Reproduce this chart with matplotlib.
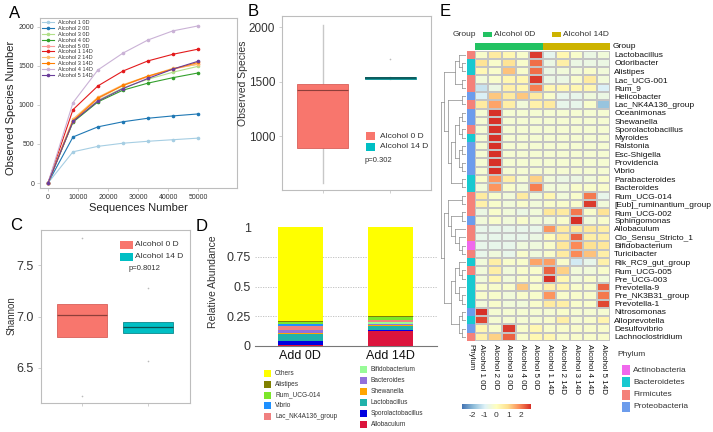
import numpy as np
import matplotlib
matplotlib.use('Agg')
import matplotlib.pyplot as plt
from matplotlib.colors import LinearSegmentedColormap, ListedColormap
from matplotlib.patches import Rectangle

plt.rcParams['font.family'] = ['Liberation Sans', 'DejaVu Sans']
plt.rcParams['axes.unicode_minus'] = False

# ---------------- Panel A data: rarefaction ----------------
seq_depth = [0, 8300, 16600, 24900, 33200, 41500, 49800]
rare_names = ['Alcohol 1 0D', 'Alcohol 2 0D', 'Alcohol 3 0D', 'Alcohol 4 0D', 'Alcohol 5 0D',
              'Alcohol 1 14D', 'Alcohol 2 14D', 'Alcohol 3 14D', 'Alcohol 4 14D', 'Alcohol 5 14D']
rare_a1_0 = [0, 400, 470, 510, 535, 555, 575]
rare_a2_0 = [0, 590, 720, 785, 830, 860, 885]
rare_a3_0 = [0, 790, 1060, 1220, 1330, 1420, 1495]
rare_a4_0 = [0, 780, 1040, 1190, 1280, 1350, 1410]
rare_a5_0 = [0, 800, 1080, 1250, 1360, 1460, 1525]
rare_a1_14 = [0, 940, 1245, 1435, 1565, 1650, 1715]
rare_a2_14 = [0, 820, 1100, 1260, 1370, 1470, 1520]
rare_a3_14 = [0, 800, 1090, 1250, 1370, 1460, 1545]
rare_a4_14 = [0, 1030, 1450, 1665, 1833, 1950, 2013]
rare_a5_14 = [0, 790, 1050, 1210, 1340, 1460, 1560]
rare_colors = ['#A6CEE3', '#1F78B4', '#B2DF8A', '#33A02C', '#FB9A99',
               '#E31A1C', '#FDBF6F', '#FF7F00', '#CAB2D6', '#6A3D9A']

# ---------------- Panel B data: observed species ----------------
grp_names = ['Alcohol 0 D', 'Alcohol 14 D']
grp_colors = ['#F8766D', '#00BFC4']
obs_q1 = [891, 1527]
obs_med = [1418, 1536]
obs_q3 = [1473, 1546]
obs_lo = [573, 1536]
obs_hi = [2020, 1536]
obs_out = [[], [1709]]
obs_p = 'p=0.302'

# ---------------- Panel C data: Shannon ----------------
sha_q1 = [6.80, 6.84]
sha_med = [7.01, 6.90]
sha_q3 = [7.126, 6.95]
sha_out = [[7.76, 6.23], [7.28, 6.57]]
sha_p = 'p=0.8012'

# ---------------- Panel D data: relative abundance ----------------
abund_groups = ['Add 0D', 'Add 14D']
taxa = ['Allobaculum', 'Sporolactobacillus', 'Lactobacillus', 'Shewanella', 'Bacteroides',
        'Bifidobacterium', 'Lac_NK4A136_group', 'Vibrio', 'Rum_UCG-014', 'Alistipes']
abund_0d = [0.008, 0.035, 0.060, 0.010, 0.020, 0.005, 0.030, 0.015, 0.015, 0.012]
abund_14d = [0.130, 0.002, 0.040, 0.003, 0.006, 0.020, 0.015, 0.002, 0.022, 0.008]
taxa_colors = ['#DC143C', '#0000E0', '#20B2AA', '#FFA500', '#9370DB',
               '#98FB98', '#F08080', '#1E90FF', '#7CE62A', '#808000']
others_color = '#FFFF00'
legend_left = ['Others', 'Alistipes', 'Rum_UCG-014', 'Vibrio', 'Lac_NK4A136_group']
legend_right = ['Bifidobacterium', 'Bacteroides', 'Shewanella', 'Lactobacillus',
                'Sporolactobacillus', 'Allobaculum']

# ---------------- Panel E data: heatmap ----------------
genera = ['Lactobacillus', 'Odoribacter', 'Alistipes', 'Lac_UCG-001', 'Rum_9', 'Helicobacter',
          'Lac_NK4A136_group', 'Oceanimonas', 'Shewanella', 'Sporolactobacillus', 'Myroides',
          'Ralstonia', 'Esc-Shigella', 'Providencia', 'Vibrio', 'Parabacteroides', 'Bacteroides',
          'Rum_UCG-014', '[Eub]_ruminantium_group', 'Rum_UCG-002', 'Sphingomonas', 'Allobaculum',
          'Clo_Sensu_Stricto_1', 'Bifidobacterium', 'Turicibacter', 'Rik_RC9_gut_group',
          'Rum_UCG-005', 'Pre_UCG-003', 'Prevotella-9', 'Pre_NK3B31_group', 'Prevotella-1',
          'Nitrosomonas', 'Alloprevotella', 'Desulfovibrio', 'Lachnoclostridium']
phylum = ['Firmicutes', 'Bacteroidetes', 'Bacteroidetes', 'Firmicutes', 'Firmicutes',
          'Proteobacteria', 'Firmicutes', 'Proteobacteria', 'Proteobacteria', 'Firmicutes',
          'Bacteroidetes', 'Proteobacteria', 'Proteobacteria', 'Proteobacteria', 'Proteobacteria',
          'Bacteroidetes', 'Bacteroidetes', 'Firmicutes', 'Firmicutes', 'Firmicutes',
          'Proteobacteria', 'Firmicutes', 'Firmicutes', 'Actinobacteria', 'Firmicutes',
          'Bacteroidetes', 'Firmicutes', 'Bacteroidetes', 'Bacteroidetes', 'Bacteroidetes',
          'Bacteroidetes', 'Proteobacteria', 'Bacteroidetes', 'Proteobacteria', 'Firmicutes']
phylum_levels = ['Actinobacteria', 'Bacteroidetes', 'Firmicutes', 'Proteobacteria']
phylum_colors = ['#F068EC', '#17C9D0', '#F4817A', '#6C9CEC']
samples = ['Alcohol 1 0D', 'Alcohol 2 0D', 'Alcohol 3 0D', 'Alcohol 4 0D', 'Alcohol 5 0D',
           'Alcohol 1 14D', 'Alcohol 2 14D', 'Alcohol 3 14D', 'Alcohol 4 14D', 'Alcohol 5 14D']
sample_group = ['Alcohol 0D'] * 5 + ['Alcohol 14D'] * 5
group_levels = ['Alcohol 0D', 'Alcohol 14D']
group_colors = ['#22C262', '#CDB300']
zscore = [
    [-0.2, 0.6, 0.25, -0.2, 2.7, -0.75, 0.25, -0.2, -0.6, -0.45],
    [0.8, -0.2, 0.8, -0.2, 2.2, -0.6, 0.5, -0.6, -0.6, -0.6],
    [0.2, -0.2, 1.3, -0.2, 2.2, -0.6, -0.45, -0.45, -0.2, -0.45],
    [-0.45, -0.2, 0.25, 0.25, 2.7, -0.6, -0.6, -0.2, 0.6, -0.45],
    [-1.2, -0.6, 0.4, 0.25, 2.0, 0.25, 0.25, 0.25, 0.25, -1.0],
    [-1.0, 1.2, 0.6, 1.2, 0.6, -0.2, -0.7, -0.7, -0.5, -0.6],
    [0.6, 1.6, 0.5, -0.45, 0.4, 0.6, -0.7, -0.7, -0.2, -1.8],
    [-0.32, 2.85, -0.32, -0.32, -0.32, -0.32, -0.32, -0.32, -0.32, -0.32],
    [-0.32, 2.85, -0.32, -0.32, -0.32, -0.32, -0.32, -0.32, -0.32, -0.32],
    [-0.32, 2.85, -0.32, -0.32, -0.32, -0.32, -0.32, -0.32, -0.32, -0.32],
    [-0.32, 2.85, -0.32, -0.32, -0.32, -0.32, -0.32, -0.32, -0.32, -0.32],
    [-0.32, 2.85, -0.32, -0.32, -0.32, -0.32, -0.32, -0.32, -0.32, -0.32],
    [-0.32, 2.85, -0.32, -0.32, -0.32, -0.32, -0.32, -0.32, -0.32, -0.32],
    [-0.32, 2.85, -0.32, -0.32, -0.32, -0.32, -0.32, -0.32, -0.32, -0.32],
    [-0.32, 2.85, -0.32, -0.32, -0.32, -0.32, -0.32, -0.32, -0.32, -0.32],
    [-0.2, 1.8, 0.5, -0.3, 1.1, -0.45, -0.6, -0.6, -0.45, -0.2],
    [-0.45, 1.8, -0.2, -0.45, 2.0, -0.45, -0.45, -0.2, -0.2, -0.2],
    [0.6, -0.2, -0.45, 0.6, -0.45, 0.25, -0.45, -0.2, 2.1, -0.7],
    [0.4, -0.2, -0.45, -0.2, -0.45, -0.2, -0.2, -0.2, 2.7, -0.45],
    [-0.6, -0.2, -0.45, -0.6, -0.45, 0.7, 0.6, 2.1, -0.2, 0.8],
    [-0.45, -0.2, -0.45, -0.2, -0.45, -0.45, -0.2, 2.8, -0.45, -0.2],
    [-0.7, -0.7, -0.7, -0.7, -0.7, 1.8, 0.6, 0.7, 0.7, 0.5],
    [-0.7, -0.7, -0.7, -0.7, -0.6, 0.1, 0.6, 2.3, 0.5, 0.5],
    [-0.7, -0.7, -0.7, -0.5, -0.5, -0.2, 0.7, 1.9, 0.9, 0.7],
    [-0.7, -0.5, -0.7, -0.2, -0.5, -0.2, 0.6, 1.9, 1.3, 0.5],
    [-0.45, 0.5, -0.2, -0.2, 1.6, 1.7, -0.2, -1.1, -0.7, 0.4],
    [-0.45, 0.5, -0.45, -0.2, -0.2, 2.3, 1.1, -0.45, -0.45, -0.2],
    [-0.45, 0.25, -0.45, -0.2, -0.2, 2.8, 0.25, -0.45, -0.2, -0.45],
    [-0.2, -0.2, -0.2, 1.2, -0.2, 0.4, 0.3, -0.2, -0.2, 2.3],
    [-0.2, -0.2, -0.45, -0.2, -0.2, 1.8, -0.2, -0.2, -0.2, 2.1],
    [-0.45, -0.2, -0.45, -0.45, -0.2, 0.6, 0.5, -0.2, -0.2, 2.6],
    [2.8, -0.3, -0.3, -0.3, -0.3, -0.3, -0.2, -0.3, -0.3, -0.3],
    [2.6, -0.3, -0.3, -0.3, -0.3, -0.2, 0.5, -0.3, -0.2, 0.3],
    [0.25, -0.2, 2.7, -0.2, 0.25, -0.2, -0.2, -0.2, -0.2, -0.2],
    [0.4, 1.1, 2.3, -0.2, 0.25, 0.25, -0.2, -0.2, -0.2, -0.2],
]
# row clustering topology (row indices)
tree = [[[[0, [1, 2]], [3, 4]],
         [[5, 6], [[[[7, 8], [9, 10]], [[11, 12], [13, 14]]], [15, 16]]]],
        [[[17, 18], [[19, 20], [21, [22, [23, 24]]]]],
         [[[25, [26, 27]], [28, [29, 30]]], [[31, 32], [33, 34]]]]]
cbar_ticks = [-2, -1, 0, 1, 2]

# ---------------- figure ----------------
W, H = 713, 432
fig = plt.figure(figsize=(W / 100, H / 100), dpi=100)


def axpx(l, t, r, b):
    return fig.add_axes([l / W, 1 - b / H, (r - l) / W, (b - t) / H])


def T(x, y, s, **kw):
    return fig.text(x / W, 1 - y / H, s, **kw)


def R(x, y, w, h, c, **kw):
    fig.add_artist(Rectangle((x / W, 1 - (y + h) / H), w / W, h / H,
                             transform=fig.transFigure, facecolor=c,
                             edgecolor='none', **kw))


FRAME = '#BDBDBD'
TXT = '#333333'


def frame(ax):
    for s in ax.spines.values():
        s.set_color(FRAME)
        s.set_linewidth(0.8)


# ---- Panel A ----
axA = axpx(40, 18, 237, 188)
rare_series = [rare_a1_0, rare_a2_0, rare_a3_0, rare_a4_0, rare_a5_0,
               rare_a1_14, rare_a2_14, rare_a3_14, rare_a4_14, rare_a5_14]
for name, vals, col in zip(rare_names, rare_series, rare_colors):
    axA.plot(seq_depth, vals, color=col, lw=0.8, marker='o', ms=1.6, label=name)
axA.set_xlim(-2660, 62800)
axA.set_ylim(-64, 2115)
axA.set_xticks([0, 10000, 20000, 30000, 40000, 50000])
axA.set_yticks([0, 500, 1000, 1500, 2000])
axA.tick_params(labelsize=5, length=2, width=0.5, color=FRAME, labelcolor=TXT, pad=2)
frame(axA)
leg = axA.legend(loc='upper left', fontsize=4, frameon=False, handlelength=2.2,
                 handletextpad=0.6, labelspacing=0.15, borderaxespad=0.2, borderpad=0.2)
for t in leg.get_texts():
    t.set_color(TXT)
T(11, 108, 'Observed Species Number', rotation=90, ha='center', va='center', fontsize=8, color='#222222')
T(138, 208, 'Sequences Number', ha='center', va='center', fontsize=8, color='#222222')
T(15, 14, 'A', ha='center', va='center', fontsize=12)

# ---- Panel B ----
axB = axpx(282, 16, 431, 190)
statsB = []
for i in range(2):
    statsB.append(dict(med=obs_med[i], q1=obs_q1[i], q3=obs_q3[i], whislo=obs_lo[i],
                       whishi=obs_hi[i], fliers=obs_out[i]))
bB = axB.bxp(statsB, positions=[1, 2], widths=0.76, patch_artist=True, showcaps=False,
             whiskerprops=dict(color='#C8C8C8', lw=1.0),
             flierprops=dict(marker='o', ms=1.2, mfc='#BBBBBB', mec='none'))
for i, p in enumerate(bB['boxes']):
    p.set_facecolor(grp_colors[i])
    p.set_edgecolor(['#D9605A', '#0A8A8E'][i])
    p.set_linewidth(0.6)
    p.set_zorder(3)
for i, m in enumerate(bB['medians']):
    m.set_color(['#8E3F3A', '#0D4F50'][i])
    m.set_linewidth([0.8, 1.2][i])
    m.set_zorder(4)
axB.set_xlim(0.4, 2.6)
axB.set_ylim(505, 2101)
axB.set_yticks([1000, 1500, 2000])
axB.set_xticks([1, 2])
axB.set_xticklabels([])
axB.tick_params(labelsize=8.5, length=2, width=0.5, color=FRAME, labelcolor=TXT, pad=3)
frame(axB)
T(243, 83, 'Observed Species', rotation=90, ha='center', va='center', fontsize=7.5, color=TXT)
T(253, 12, 'B', ha='center', va='center', fontsize=12)
for i, nm in enumerate(grp_names):
    R(366, 132 + 11 * i, 9, 7.5, grp_colors[i])
    T(380, 136 + 11 * i, nm, ha='left', va='center', fontsize=6, color=TXT)
T(365, 160, obs_p, ha='left', va='center', fontsize=5.5, color=TXT)

# ---- Panel C ----
axC = axpx(41, 230, 190, 403)
statsC = []
for i in range(2):
    statsC.append(dict(med=sha_med[i], q1=sha_q1[i], q3=sha_q3[i], whislo=sha_q1[i],
                       whishi=sha_q3[i], fliers=sha_out[i]))
bC = axC.bxp(statsC, positions=[1, 2], widths=0.76, patch_artist=True, showcaps=False,
             whiskerprops=dict(color='#C8C8C8', lw=0.8),
             flierprops=dict(marker='o', ms=1.2, mfc='#BBBBBB', mec='none'))
for i, p in enumerate(bC['boxes']):
    p.set_facecolor(grp_colors[i])
    p.set_edgecolor(['#D9605A', '#0A8A8E'][i])
    p.set_linewidth(0.6)
for i, m in enumerate(bC['medians']):
    m.set_color(['#8E3F3A', '#0D4F50'][i])
    m.set_linewidth(0.9)
axC.set_xlim(0.379, 2.636)
axC.set_ylim(6.16, 7.84)
axC.set_yticks([6.5, 7.0, 7.5])
axC.set_xticks([1, 2])
axC.set_xticklabels([])
axC.tick_params(labelsize=9, length=2, width=0.5, color=FRAME, labelcolor=TXT, pad=3)
frame(axC)
T(12, 316, 'Shannon', rotation=90, ha='center', va='center', fontsize=7, color=TXT)
T(16, 225, 'C', ha='center', va='center', fontsize=12)
for i, nm in enumerate(grp_names):
    R(120, 241 + 12 * i, 13, 7.5, grp_colors[i])
    T(135, 245 + 12 * i, nm, ha='left', va='center', fontsize=6, color=TXT)
T(129, 269, sha_p, ha='left', va='center', fontsize=5.5, color=TXT)

# ---- Panel D ----
axD = axpx(255, 227, 437, 346)
xpos = np.arange(1, len(abund_groups) + 1)
bottom = np.zeros(len(abund_groups))
for j, tx in enumerate(taxa):
    v = np.array([abund_0d[j], abund_14d[j]])
    axD.bar(xpos, v, width=0.5, bottom=bottom, color=taxa_colors[j], zorder=3)
    bottom += v
axD.bar(xpos, 1 - bottom, width=0.5, bottom=bottom, color=others_color, zorder=3)
axD.set_xlim(0.5, 2.522)
axD.set_ylim(0, 1)
axD.set_yticks([0, 0.25, 0.5, 0.75, 1])
axD.set_yticklabels(['0', '0.25', '0.5', '0.75', '1'])
axD.set_xticks(xpos)
axD.set_xticklabels(abund_groups)
for y in [0.25, 0.5, 0.75]:
    axD.axhline(y, color='#BBBBBB', lw=0.6, ls=(0, (1.5, 1.5)), zorder=1)
for s in ['left', 'top', 'right']:
    axD.spines[s].set_visible(False)
axD.spines['bottom'].set_color('#777777')
axD.spines['bottom'].set_linewidth(0.8)
axD.tick_params(axis='y', labelsize=9, length=0, pad=3, labelcolor=TXT)
axD.tick_params(axis='x', labelsize=9, length=0, pad=3, labelcolor='#111111')
T(213, 282, 'Relative Abundance', rotation=90, ha='center', va='center', fontsize=7.5, color=TXT)
T(202, 227, 'D', ha='center', va='center', fontsize=12)
col_of = dict(zip(taxa, taxa_colors))
col_of['Others'] = others_color
for i, nm in enumerate(legend_left):
    R(264, 370 + 10.8 * i, 7, 7, col_of[nm])
    T(275, 373.5 + 10.8 * i, nm, ha='left', va='center', fontsize=4.7, color=TXT)
for i, nm in enumerate(legend_right):
    R(360, 366 + 10.9 * i, 7, 7, col_of[nm])
    T(371, 369.5 + 10.9 * i, nm, ha='left', va='center', fontsize=4.7, color=TXT)

# ---- Panel E ----
top, rowh = 50.5, 8.3
nrow, ncol = len(genera), len(samples)
bot = top + nrow * rowh
hl, hr = 475, 610
cmap = LinearSegmentedColormap.from_list(
    'rdylbu_r', ['#4575B4', '#91BFDB', '#E0F3F8', '#FFFFBF', '#FEE090', '#FC8D59', '#D73027'], N=100)
vmax = 2.85
Z = np.array(zscore)
axH = axpx(hl, top, hr, bot)
axH.pcolormesh(Z, cmap=cmap, vmin=-vmax, vmax=vmax, edgecolors='#C4C4C4', linewidth=0.35)
axH.set_ylim(nrow, 0)
axH.set_xlim(0, ncol)
axH.set_xticks([])
axH.yaxis.tick_right()
axH.set_yticks(np.arange(nrow) + 0.5)
axH.set_yticklabels(genera, fontsize=6, color='#111111')
axH.tick_params(axis='y', length=0, pad=3)
for s in axH.spines.values():
    s.set_visible(False)

# phylum annotation column
axP = axpx(467, top, hl, bot)
pidx = np.array([[phylum_levels.index(p)] for p in phylum])
axP.pcolormesh(pidx, cmap=ListedColormap(phylum_colors), vmin=-0.5, vmax=3.5,
               edgecolors='none')
axP.set_ylim(nrow, 0)
axP.axis('off')

# group annotation bar
axG = axpx(hl, 43, hr, 50.3)
gidx = np.array([[group_levels.index(g) for g in sample_group]])
axG.pcolormesh(gidx, cmap=ListedColormap(group_colors), vmin=-0.5, vmax=1.5, edgecolors='none')
axG.axis('off')
T(613, 46.7, 'Group', ha='left', va='center', fontsize=6, color='#111111')

# dendrogram
axT = axpx(440, top, 466, bot)


def draw_tree(node):
    if isinstance(node, int):
        return node + 0.5, 0.0
    pts = [draw_tree(ch) for ch in node]
    h = max(p[1] for p in pts) + 1
    ys = [p[0] for p in pts]
    for (y, hc) in pts:
        axT.plot([-hc, -h], [y, y], color='#8A8A8A', lw=0.5)
    axT.plot([-h, -h], [min(ys), max(ys)], color='#8A8A8A', lw=0.5)
    return float(np.mean(ys)), h


_, root_h = draw_tree(tree)
axT.set_ylim(nrow, 0)
axT.set_xlim(-root_h * 1.02, 0)
axT.axis('off')

# column labels
col_w = (hr - hl) / ncol
T(471, bot + 3, 'Phylum', rotation=270, ha='center', va='top', fontsize=5.8, color='#111111')
for i, s in enumerate(samples):
    T(hl + col_w * (i + 0.5), bot + 3, s, rotation=270, ha='center', va='top',
      fontsize=5.8, color='#111111')

# top legend
T(453, 34.5, 'Group', ha='left', va='center', fontsize=6, color='#333333')
R(483, 32.5, 9, 4, group_colors[0])
T(494, 34.5, group_levels[0], ha='left', va='center', fontsize=6, color='#333333')
R(552, 32.5, 9, 4, group_colors[1])
T(563, 34.5, group_levels[1], ha='left', va='center', fontsize=6, color='#333333')
T(445, 12, 'E', ha='center', va='center', fontsize=12)

# colorbar
axCB = axpx(462, 404, 531, 409)
grad = np.linspace(-vmax, vmax, 200)[None, :]
axCB.imshow(grad, aspect='auto', cmap=cmap, vmin=-vmax, vmax=vmax, extent=[-vmax, vmax, 0, 1])
axCB.set_yticks([])
axCB.set_xticks(cbar_ticks)
axCB.tick_params(axis='x', length=0, labelsize=6, pad=2, labelcolor='#333333')
for s in axCB.spines.values():
    s.set_visible(False)

# phylum legend
T(617, 355, 'Phylum', ha='left', va='center', fontsize=6, color='#333333')
for i, (nm, c) in enumerate(zip(phylum_levels, phylum_colors)):
    R(622, 365 + 12.3 * i, 8, 10, c)
    T(633, 370 + 12.3 * i, nm, ha='left', va='center', fontsize=6, color='#333333')

fig.savefig('out.png', dpi=100)
